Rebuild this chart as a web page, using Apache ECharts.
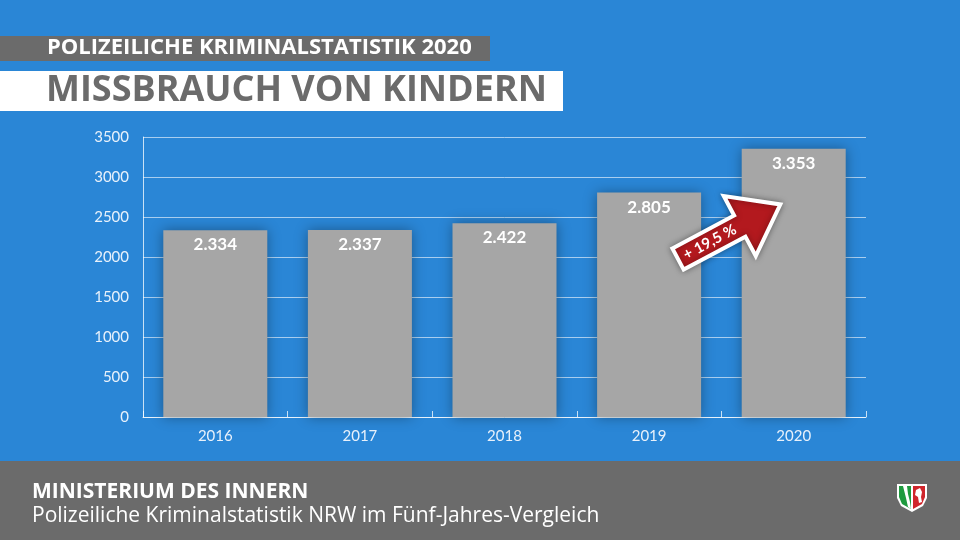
<!DOCTYPE html>
<html><head><meta charset="utf-8">
<script src="https://cdn.jsdelivr.net/npm/echarts@6/dist/echarts.min.js"></script>
<style>html,body{margin:0;padding:0;background:#2a86d6;}#c{width:960px;height:540px;}</style>
</head><body><div id="c"></div>
<script>
var categories = ['2016', '2017', '2018', '2019', '2020'];
var values = [2334, 2337, 2422, 2805, 3353];
var yTicks = [0, 500, 1000, 1500, 2000, 2500, 3000, 3500];
var changeLabel = '+ 19,5 %';

function fmt(v){ return String(v).replace(/\B(?=(\d{3})+(?!\d))/g, '.'); }

var chart = echarts.init(document.getElementById('c'));
var ang = 0.49;
chart.setOption({
  backgroundColor: '#2a86d6',
  animation: false,
  grid: { left: 143, right: 94, top: 137, bottom: 123 },
  xAxis: {
    type: 'category', data: categories,
    axisLine: { lineStyle: { color: 'rgba(255,255,255,0.75)', width: 1 } },
    axisTick: { show: true, inside: true, length: 6, lineStyle: { color: 'rgba(255,255,255,0.75)' } },
    axisLabel: { color: '#e8f1fb', fontSize: 15, fontFamily: 'Lato', margin: 12 }
  },
  yAxis: {
    type: 'value', min: yTicks[0], max: yTicks[yTicks.length-1], interval: 500,
    axisLine: { show: true, lineStyle: { color: 'rgba(255,255,255,0.75)' } },
    axisTick: { show: false },
    splitLine: { lineStyle: { color: 'rgba(255,255,255,0.6)', width: 1 } },
    axisLabel: { color: '#e8f1fb', fontSize: 15, fontFamily: 'Lato', margin: 14, formatter: function(v){ return String(v); } }
  },
  series: [{
    type: 'bar', data: values, barWidth: 104,
    itemStyle: { color: '#a6a6a6', shadowColor: 'rgba(0,0,0,0.35)', shadowBlur: 12, shadowOffsetX: 0, shadowOffsetY: 0 },
    label: { show: true, position: 'insideTop', distance: 6, color: '#fff', fontSize: 17, fontWeight: 'bold', fontFamily: 'Lato',
      formatter: function(p){ return fmt(p.value); } }
  }],
  graphic: [
    { type: 'rect', left: 0, top: 36, shape: { width: 490, height: 25 }, style: { fill: '#6b6b6b' } },
    { type: 'text', left: 47, top: 37, style: { text: 'POLIZEILICHE KRIMINALSTATISTIK 2020', fill: '#fff', font: 'bold 22px "Open Sans"' } },
    { type: 'rect', left: 0, top: 71, shape: { width: 563, height: 40 }, style: { fill: '#ffffff' } },
    { type: 'text', left: 46, top: 73, style: { text: 'MISSBRAUCH VON KINDERN', fill: '#6b6b6b', font: 'bold 36px "Open Sans"' } },
    { type: 'rect', left: 0, top: 461, shape: { width: 960, height: 79 }, style: { fill: '#6b6b6b' } },
    { type: 'text', left: 32, top: 482, style: { text: 'MINISTERIUM DES INNERN', fill: '#fff', font: 'bold 21px "Open Sans"' } },
    { type: 'text', left: 32, top: 506, style: { text: 'Polizeiliche Kriminalstatistik NRW im Fünf-Jahres-Vergleich', fill: '#fff', font: '21px "Open Sans"' } },
    { type: 'group', x: 678, y: 259, rotation: ang, z: 100, children: [
      { type: 'polygon', z: 100, shape: { points: [[0,-12],[70,-12],[70,-34],[116,0],[70,34],[70,12],[0,12]] },
        style: { fill: '#b3191e', stroke: '#fff', lineWidth: 4, lineJoin: 'miter', shadowColor: 'rgba(0,0,0,0.35)', shadowBlur: 6 } },
      { type: 'text', z: 101, x: 36, y: 0, style: { text: changeLabel, fill: '#fff', font: 'bold 15px Lato', align: 'center', verticalAlign: 'middle' } }
    ] },
    { type: 'group', x: 897, y: 484, children: [
      { type: 'polygon', shape: { points: [[0,0],[30,0],[30,14],[26,22],[15,28],[4,22],[0,14]] }, style: { fill: '#fff' } },
      { type: 'polygon', shape: { points: [[2,2],[14,2],[14,25],[5,20],[2,13]] }, style: { fill: '#1e9a3e' } },
      { type: 'polygon', shape: { points: [[16,2],[28,2],[28,13],[25,20],[16,25]] }, style: { fill: '#d0262c' } },
      { type: 'polygon', shape: { points: [[6,2],[10,2],[11,10],[13,18],[14,25],[11,23],[9,14]] }, style: { fill: '#fff' } },
      { type: 'polygon', shape: { points: [[19,6],[23,4],[25,8],[24,13],[25,18],[22,19],[21,13],[18,11]] }, style: { fill: '#fff' } }
    ] }
  ]
});
</script></body></html>
